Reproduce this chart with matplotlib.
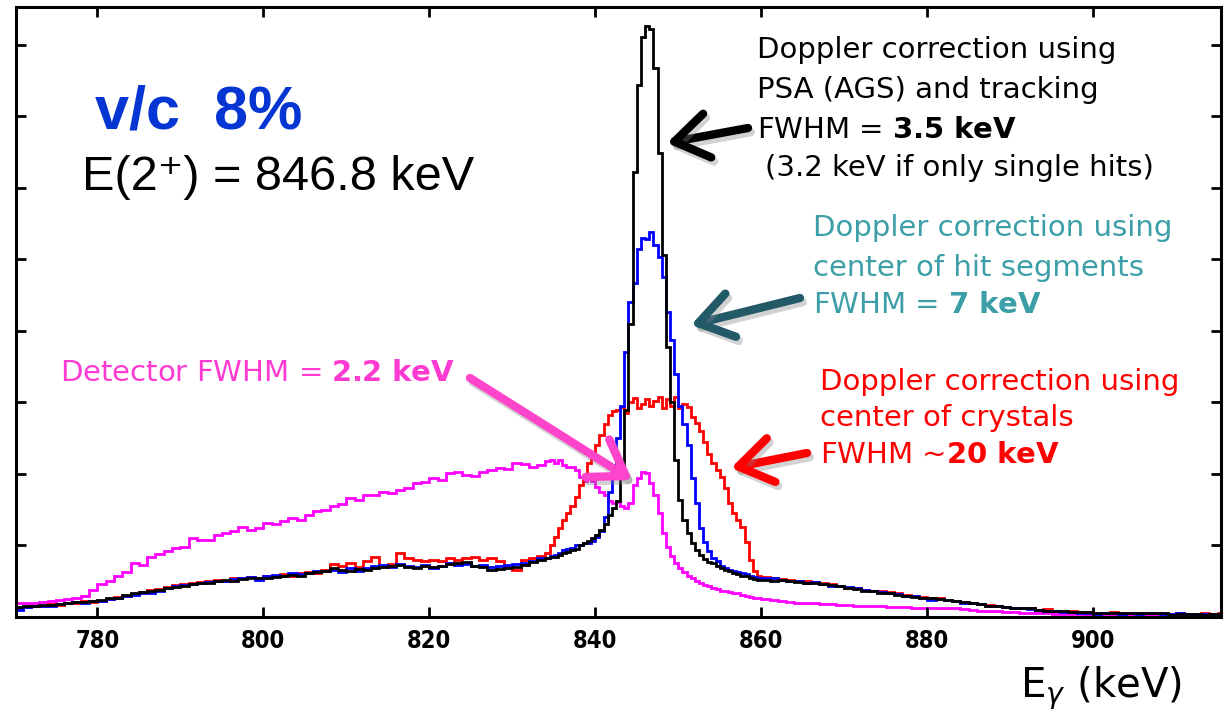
import numpy as np
import matplotlib
matplotlib.use('Agg')
import matplotlib.pyplot as plt
import matplotlib.patheffects as pe

plt.rcParams['mathtext.fontset'] = 'dejavusans'

# bin edges (keV): 1 keV in the tails, 0.5 keV around the peak
edges = np.concatenate([np.arange(770, 834, 1.0),
                        np.arange(834, 860, 0.5),
                        np.arange(860, 917, 1.0)])

# counts, in units of one y tick
black_left = [0.14, 0.15, 0.16, 0.17, 0.17, 0.18, 0.20, 0.21, 0.21, 0.23,
              0.24, 0.26, 0.27, 0.31, 0.33, 0.35, 0.36, 0.38, 0.41, 0.42,
              0.44, 0.46, 0.47, 0.48, 0.50, 0.52, 0.51, 0.53, 0.54, 0.55,
              0.54, 0.56, 0.58, 0.59, 0.57, 0.61, 0.63, 0.64, 0.68, 0.66,
              0.65, 0.67, 0.66, 0.69, 0.70, 0.72, 0.73, 0.70, 0.68, 0.71,
              0.70, 0.72, 0.74, 0.76, 0.77, 0.71, 0.70, 0.66, 0.67, 0.69,
              0.70, 0.73, 0.77, 0.80]
black_mid = [0.82, 0.84, 0.84, 0.86, 0.89, 0.91, 0.94, 0.95, 1.00, 1.03,
             1.06, 1.10, 1.15, 1.22, 1.30, 1.42, 1.52, 1.62, 2.05, 2.90,
             4.10, 6.22, 7.44, 8.11, 8.27, 8.22, 7.68, 6.49, 5.06, 3.78,
             3.00, 2.20, 1.64, 1.36, 1.17, 1.03, 0.94, 0.86, 0.81, 0.77,
             0.75, 0.72, 0.68, 0.66, 0.64, 0.62, 0.60, 0.58, 0.57, 0.55,
             0.53, 0.52]
black_right = [0.52, 0.51, 0.52, 0.50, 0.49, 0.48, 0.47, 0.46, 0.45, 0.43,
               0.41, 0.39, 0.37, 0.36, 0.34, 0.33, 0.31, 0.30, 0.28, 0.27,
               0.26, 0.25, 0.24, 0.22, 0.21, 0.20, 0.18, 0.16, 0.15, 0.14,
               0.13, 0.13, 0.12, 0.10, 0.09, 0.08, 0.08, 0.07, 0.07, 0.07,
               0.06, 0.06, 0.06, 0.06, 0.06, 0.06, 0.06, 0.05, 0.06, 0.03,
               0.04, 0.04, 0.04, 0.03, 0.04, 0.03]

blue_left = [0.10, 0.14, 0.15, 0.16, 0.16, 0.18, 0.19, 0.21, 0.20, 0.22,
             0.23, 0.25, 0.26, 0.29, 0.31, 0.34, 0.33, 0.37, 0.40, 0.43,
             0.45, 0.46, 0.48, 0.49, 0.51, 0.50, 0.53, 0.54, 0.56, 0.52,
             0.57, 0.59, 0.58, 0.61, 0.60, 0.62, 0.65, 0.64, 0.66, 0.63,
             0.69, 0.64, 0.68, 0.71, 0.73, 0.70, 0.74, 0.72, 0.70, 0.73,
             0.69, 0.72, 0.75, 0.73, 0.74, 0.71, 0.73, 0.70, 0.72, 0.73,
             0.74, 0.76, 0.79, 0.82]
blue_mid = [0.82, 0.85, 0.86, 0.90, 0.93, 0.95, 0.97, 1.00, 1.01, 1.03,
            1.04, 1.06, 1.12, 1.20, 1.40, 1.75, 2.05, 2.50, 2.95, 3.70,
            4.40, 4.67, 5.15, 5.30, 5.28, 5.38, 5.20, 5.04, 4.76, 4.27,
            3.87, 3.40, 2.95, 2.70, 2.40, 1.95, 1.60, 1.25, 1.05, 0.92,
            0.82, 0.78, 0.72, 0.68, 0.66, 0.65, 0.63, 0.62, 0.60, 0.58,
            0.56, 0.55]
blue_right = [0.55, 0.54, 0.52, 0.51, 0.50, 0.48, 0.49, 0.46, 0.44, 0.43,
              0.42, 0.40, 0.38, 0.36, 0.35, 0.34, 0.32, 0.30, 0.29, 0.27,
              0.24, 0.25, 0.24, 0.22, 0.20, 0.19, 0.18, 0.16, 0.15, 0.14,
              0.13, 0.12, 0.11, 0.10, 0.08, 0.09, 0.07, 0.07, 0.06, 0.05,
              0.04, 0.05, 0.05, 0.04, 0.05, 0.04, 0.05, 0.05, 0.04, 0.04,
              0.05, 0.04, 0.03, 0.04, 0.04, 0.03]

red_left = [0.12, 0.14, 0.15, 0.16, 0.18, 0.17, 0.19, 0.20, 0.22, 0.21,
            0.23, 0.25, 0.28, 0.30, 0.32, 0.35, 0.38, 0.39, 0.42, 0.45,
            0.46, 0.47, 0.49, 0.50, 0.52, 0.51, 0.54, 0.55, 0.56, 0.54,
            0.57, 0.58, 0.60, 0.58, 0.62, 0.63, 0.62, 0.66, 0.74, 0.72,
            0.76, 0.70, 0.78, 0.84, 0.72, 0.74, 0.89, 0.82, 0.80, 0.78,
            0.80, 0.79, 0.82, 0.80, 0.82, 0.84, 0.80, 0.82, 0.78, 0.72,
            0.66, 0.80, 0.82, 0.85]
red_mid = [0.90, 1.00, 1.12, 1.25, 1.35, 1.45, 1.55, 1.68, 1.85, 1.95,
           2.15, 2.25, 2.40, 2.55, 2.70, 2.82, 2.88, 2.90, 2.94, 2.85,
           3.00, 3.06, 2.92, 2.98, 3.05, 2.95, 3.02, 3.08, 2.92, 3.05,
           2.95, 3.08, 2.92, 2.98, 2.94, 2.80, 2.71, 2.60, 2.45, 2.28,
           2.15, 2.05, 1.96, 1.80, 1.60, 1.45, 1.35, 1.26, 1.05, 0.80,
           0.65, 0.58]
red_right = [0.56, 0.55, 0.53, 0.52, 0.51, 0.50, 0.49, 0.47, 0.46, 0.44,
             0.41, 0.40, 0.38, 0.37, 0.36, 0.35, 0.33, 0.31, 0.29, 0.28,
             0.27, 0.26, 0.24, 0.22, 0.21, 0.19, 0.18, 0.17, 0.15, 0.14,
             0.13, 0.13, 0.12, 0.10, 0.11, 0.09, 0.08, 0.08, 0.07, 0.07,
             0.06, 0.06, 0.07, 0.06, 0.05, 0.05, 0.06, 0.05, 0.05, 0.04,
             0.05, 0.04, 0.04, 0.05, 0.04, 0.05]

mag_left = [0.19, 0.20, 0.20, 0.21, 0.23, 0.24, 0.25, 0.27, 0.29, 0.38,
            0.46, 0.50, 0.57, 0.63, 0.75, 0.73, 0.84, 0.88, 0.92, 0.96,
            0.98, 1.10, 1.08, 1.08, 1.15, 1.18, 1.20, 1.26, 1.22, 1.24,
            1.31, 1.30, 1.34, 1.38, 1.36, 1.42, 1.48, 1.50, 1.55, 1.58,
            1.66, 1.64, 1.71, 1.70, 1.75, 1.73, 1.78, 1.80, 1.87, 1.89,
            1.94, 1.92, 2.01, 2.03, 1.99, 1.97, 2.03, 2.05, 2.08, 2.07,
            2.15, 2.14, 2.10, 2.12]
mag_mid = [2.18, 2.20, 2.15, 2.20, 2.12, 2.10, 2.10, 2.05, 1.96, 1.90,
           1.96, 1.90, 1.82, 1.75, 1.70, 1.62, 1.60, 1.61, 1.55, 1.52,
           1.59, 1.85, 1.95, 2.03, 2.01, 1.87, 1.70, 1.45, 1.17, 0.98,
           0.85, 0.75, 0.68, 0.63, 0.58, 0.55, 0.50, 0.47, 0.45, 0.43,
           0.41, 0.39, 0.37, 0.36, 0.35, 0.34, 0.33, 0.31, 0.30, 0.28,
           0.27, 0.26]
mag_right = [0.25, 0.24, 0.22, 0.21, 0.20, 0.19, 0.19, 0.18, 0.18, 0.17,
             0.17, 0.16, 0.16, 0.15, 0.15, 0.14, 0.14, 0.14, 0.13, 0.13,
             0.13, 0.13, 0.13, 0.12, 0.11, 0.10, 0.09, 0.09, 0.08, 0.07,
             0.07, 0.06, 0.06, 0.05, 0.05, 0.04, 0.04, 0.04, 0.04, 0.03,
             0.03, 0.04, 0.03, 0.03, 0.03, 0.03, 0.03, 0.03, 0.02, 0.03,
             0.03, 0.02, 0.03, 0.03, 0.02, 0.03]

xticks = [780, 800, 820, 840, 860, 880, 900]

fig = plt.figure(figsize=(12.26, 7.14), dpi=100)
ax = fig.add_axes([16/1226, 97/714, 1205/1226, 610/714])

series = [(mag_left + mag_mid + mag_right, '#ff00ff'),
          (red_left + red_mid + red_right, '#ff0000'),
          (blue_left + blue_mid + blue_right, '#0000ff'),
          (black_left + black_mid + black_right, '#000000')]
for vals, col in series:
    ax.stairs(vals, edges, color=col, lw=2.0, baseline=None)

ax.set_xlim(770.2, 915.4)
ax.set_ylim(0, 8.53)
ax.set_xticks(xticks)
ax.set_xticklabels([str(t) for t in xticks], family='DejaVu Sans', fontstretch='condensed',
                   fontweight='bold', fontsize=17)
ax.set_yticks(range(1, 9))
ax.set_yticklabels([])
ax.tick_params(direction='in', length=7, width=2, top=True, right=True, pad=9)
for s in ax.spines.values():
    s.set_linewidth(2.2)

def fx(x):
    return x / 1226

def fy(y):
    return 1 - y / 714

fig.text(fx(95), fy(128), 'v/c  8%', color='#0535d2', fontsize=44, fontweight='bold',
         family='Liberation Sans', va='baseline')
fig.text(fx(82), fy(190), 'E(2\u207a) = 846.8 keV', color='black', fontsize=35,
         family=['Liberation Sans', 'DejaVu Sans'], va='baseline')

fs = 21
txt = dict(fontsize=fs, family='DejaVu Sans', va='center')
fig.text(fx(757), fy(50), 'Doppler correction using', color='black', **txt)
fig.text(fx(757), fy(90), 'PSA (AGS) and tracking', color='black', **txt)
fig.text(fx(757), fy(130), r'FWHM = $\mathbf{3.5\ keV}$', color='black', **txt)
fig.text(fx(765), fy(168), '(3.2 keV if only single hits)', color='black', **txt)

teal = '#3c9ea6'
fig.text(fx(813), fy(228), 'Doppler correction using', color=teal, **txt)
fig.text(fx(813), fy(268), 'center of hit segments', color=teal, **txt)
fig.text(fx(813), fy(305), r'FWHM = $\mathbf{7\ keV}$', color=teal, **txt)

fig.text(fx(820), fy(382), 'Doppler correction using', color='#ff0000', **txt)
fig.text(fx(820), fy(418), 'center of crystals', color='#ff0000', **txt)
fig.text(fx(820), fy(455), r'FWHM ~$\mathbf{20\ keV}$', color='#ff0000', **txt)

fig.text(fx(60), fy(373), r'Detector FWHM = $\mathbf{2.2\ keV}$', color='#ff3ad2', **txt)

fig.text(fx(1020), fy(697), r'E$_\gamma$ (keV)', color='black', fontsize=29,
         family='DejaVu Sans', va='baseline')

# arrows (tail -> tip), figure pixels
arrows = [((748, 128), (667, 143), '#000000'),
          ((800, 298), (691, 325), '#235a68'),
          ((807, 453), (731, 468), '#ff0000'),
          ((470, 378), (632, 480), '#ff44cc')]
for tail, tip, col in arrows:
    ax.annotate('', xy=(tip[0], 714 - tip[1]), xycoords='figure pixels',
                xytext=(tail[0], 714 - tail[1]), textcoords='figure pixels',
                arrowprops=dict(arrowstyle='->, head_length=1.2, head_width=0.8',
                                color=col, lw=6, mutation_scale=20,
                                shrinkA=0, shrinkB=0, capstyle='round', joinstyle='round',
                                path_effects=[pe.SimpleLineShadow(offset=(2, -3),
                                                                  shadow_color='gray',
                                                                  alpha=0.35),
                                              pe.Normal()]))

fig.savefig('out.png', dpi=100)
